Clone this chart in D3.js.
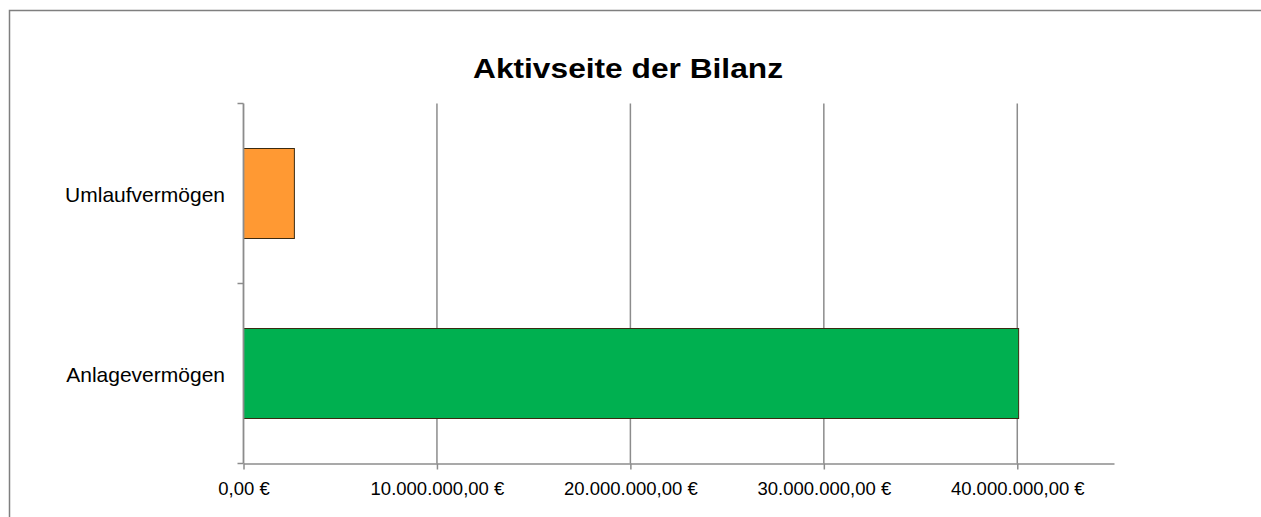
<!DOCTYPE html>
<html>
<head>
<meta charset="utf-8">
<script src="https://d3js.org/d3.v7.min.js"></script>
<style>
  body { margin: 0; background: #fff; }
  svg { display: block; font-family: "Liberation Sans", Arial, sans-serif; }
</style>
</head>
<body>
<div id="chart"></div>
<script>
var categories = ['Umlaufvermögen', 'Anlagevermögen'];
var values = [2630000, 40070000];
var barColors = ['#FF9933', '#00B050'];
var tickValues = [0, 10000000, 20000000, 30000000, 40000000];
var chartTitle = 'Aktivseite der Bilanz';

var width = 1261, height = 517;

var svg = d3.select('#chart').append('svg')
  .attr('width', width)
  .attr('height', height);

// frame
svg.append('path')
  .attr('d', 'M9.5,517 V10.5 H1261')
  .attr('fill', 'none')
  .attr('stroke', '#7f7f7f')
  .attr('stroke-width', 1.5);

var x = d3.scaleLinear().domain([0, 45000000]).range([243.5, 1114]);
var y = d3.scaleBand().domain(categories).range([103.5, 463.5]).paddingInner(0.5).paddingOuter(0.25);

var fmt = function(v) {
  var s = d3.format(',.2f')(v);
  s = s.replace(/,/g, '#').replace('.', ',').replace(/#/g, '.');
  return s + ' €';
};

// gridlines
svg.append('g')
  .selectAll('line')
  .data(tickValues.slice(1))
  .enter().append('line')
  .attr('x1', function(d) { return x(d); })
  .attr('x2', function(d) { return x(d); })
  .attr('y1', 103.5)
  .attr('y2', 463.5)
  .attr('stroke', '#8c8c8c')
  .attr('stroke-width', 1.5);

// bars
svg.append('g')
  .selectAll('rect')
  .data(categories)
  .enter().append('rect')
  .attr('x', x(0))
  .attr('y', function(d) { return y(d); })
  .attr('width', function(d, i) { return x(values[i]) - x(0); })
  .attr('height', y.bandwidth())
  .attr('fill', function(d, i) { return barColors[i]; })
  .attr('stroke', '#3a2a10')
  .attr('stroke-width', 1);

// x axis
var xAxis = svg.append('g')
  .attr('transform', 'translate(0,463.5)')
  .call(d3.axisBottom(x).tickValues(tickValues).tickSize(6).tickSizeOuter(0).tickFormat(fmt));
xAxis.select('.domain').attr('stroke', '#8c8c8c').attr('stroke-width', 1.5);
xAxis.selectAll('.tick line').attr('stroke', '#8c8c8c').attr('stroke-width', 1.5);
xAxis.selectAll('.tick text')
  .attr('y', 31)
  .attr('dy', 0)
  .attr('fill', '#000')
  .style('font-size', '18.5px')
  .style('font-family', '"Liberation Sans", Arial, sans-serif');

// y axis
var yAxisG = svg.append('g');
yAxisG.append('line')
  .attr('x1', x(0)).attr('x2', x(0))
  .attr('y1', 103.5).attr('y2', 463.5)
  .attr('stroke', '#8c8c8c')
  .attr('stroke-width', 1.8);
yAxisG.selectAll('line.tk')
  .data([103.5, 283.5, 463.5])
  .enter().append('line')
  .attr('class', 'tk')
  .attr('x1', x(0) - 6).attr('x2', x(0))
  .attr('y1', function(d) { return d; })
  .attr('y2', function(d) { return d; })
  .attr('stroke', '#8c8c8c')
  .attr('stroke-width', 1.5);

yAxisG.selectAll('text')
  .data(categories)
  .enter().append('text')
  .attr('x', 225)
  .attr('y', function(d) { return y(d) + y.bandwidth() / 2 + 8; })
  .attr('text-anchor', 'end')
  .style('font-size', '21px')
  .text(function(d) { return d; });

// title
svg.append('text')
  .attr('x', 628)
  .attr('y', 78)
  .attr('text-anchor', 'middle')
  .attr('textLength', 310)
  .attr('lengthAdjust', 'spacingAndGlyphs')
  .style('font-size', '27px')
  .style('font-weight', 'bold')
  .text(chartTitle);
</script>
</body>
</html>
